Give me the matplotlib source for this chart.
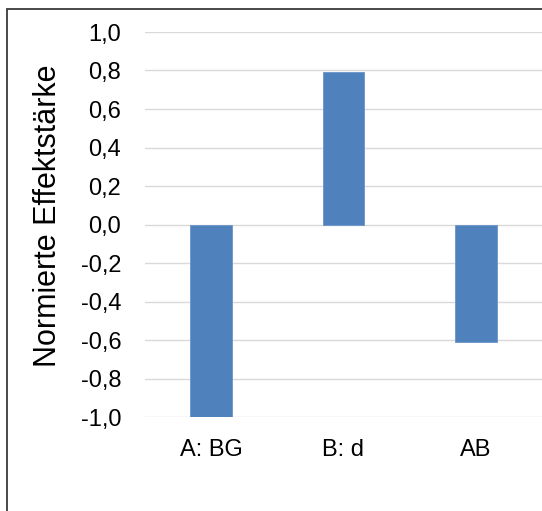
import matplotlib
matplotlib.use("Agg")
import matplotlib.pyplot as plt
from matplotlib.patches import Rectangle

categories = ["A: BG", "B: d", "AB"]
effects = [-1.0, 0.79, -0.61]
yticks = [-1.0, -0.8, -0.6, -0.4, -0.2, 0.0, 0.2, 0.4, 0.6, 0.8, 1.0]

plt.rcParams["font.family"] = ["Liberation Sans", "DejaVu Sans"]

W, H = 542, 511
fig = plt.figure(figsize=(W / 100, H / 100), dpi=100)
fig.patch.set_facecolor("white")

# chart frame (left and top edges visible)
fig.patches.append(Rectangle((7 / W, -0.1), 1.2, 1 - 9 / H + 0.1,
                             transform=fig.transFigure, fill=False,
                             edgecolor="#3a3a3a", linewidth=1.3, zorder=0))

left, right = 144.75 / W, 542.25 / W
top, bottom = 1 - 32 / H, 1 - 417 / H
ax = fig.add_axes([left, bottom, right - left, top - bottom])
ax.set_facecolor("none")

x = range(len(categories))
ax.bar(x, effects, width=0.31, color="#4f81bd", edgecolor="#6a95c8",
       linewidth=0.6, zorder=3)

ax.set_xlim(-0.5, len(categories) - 0.5)
ax.set_ylim(-1.0, 1.0)
ax.set_yticks(yticks)
ax.set_yticklabels([f"{v:.1f}".replace(".", ",") for v in yticks])
ax.set_xticks(list(x))
ax.set_xticklabels(categories)

ax.yaxis.grid(True, color="#d9d9d9", linewidth=1.0, zorder=0)
ax.set_axisbelow(True)
for s in ax.spines.values():
    s.set_visible(False)

ax.tick_params(axis="y", length=0, pad=17, labelsize=17)
ax.tick_params(axis="x", length=0, pad=16, labelsize=17)

ax.set_ylabel("Normierte Effektstärke", fontsize=22)
ax.yaxis.set_label_coords(-0.205, 0.522)

fig.savefig("out.png", dpi=100, facecolor="white")
